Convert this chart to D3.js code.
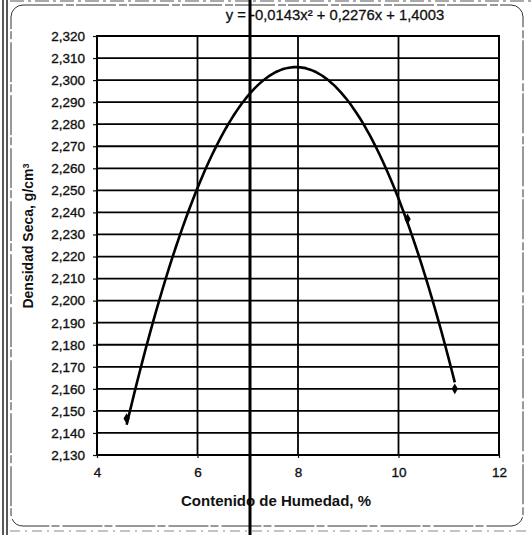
<!DOCTYPE html>
<html>
<head>
<meta charset="utf-8">
<script src="https://cdn.jsdelivr.net/npm/d3@7"></script>
<style>
  html, body { margin: 0; padding: 0; background: #fff; }
  svg { display: block; }
  text { font-family: "Liberation Sans", Arial, sans-serif; fill: #111; }
</style>
</head>
<body>
<svg id="chart" width="531" height="535"></svg>
<script>
// ---- data ----
const moisture = [4.59, 10.18, 11.12];          // Contenido de Humedad, %
const density  = [2.1465, 2.237, 2.160];        // Densidad Seca, g/cm3
const trendCoef = [-0.0143, 0.2276, 1.4003];    // polynomial trendline a, b, c
const trendRange = [4.59, 11.12];
const xTicks = [4, 6, 8, 10, 12];
const yTicks = [2.13, 2.14, 2.15, 2.16, 2.17, 2.18, 2.19, 2.20, 2.21, 2.22,
                2.23, 2.24, 2.25, 2.26, 2.27, 2.28, 2.29, 2.30, 2.31, 2.32];
const equationLabel = "y = -0,0143x² + 0,2276x + 1,4003";
const xTitle = "Contenido de Humedad, %";
const yTitle = "Densidad Seca, g/cm";

// ---- layout ----
const svg = d3.select("#chart");
const plot = { left: 97, right: 499, top: 36, bottom: 455 };

const x = d3.scaleLinear().domain([4, 12]).range([plot.left, plot.right]);
const y = d3.scaleLinear().domain([2.13, 2.32]).range([plot.bottom, plot.top]);

const loc = d3.formatLocale({ decimal: ",", thousands: ".", grouping: [3], currency: ["", ""] });
const fy = loc.format(".3f");

// page/scan decorations
svg.append("line").attr("x1", 3).attr("x2", 3).attr("y1", 0).attr("y2", 535)
  .attr("stroke", "#222").attr("stroke-width", 1.5);
svg.append("line").attr("x1", 7).attr("x2", 7).attr("y1", 0).attr("y2", 535)
  .attr("stroke", "#222").attr("stroke-width", 1.5);
svg.append("line").attr("x1", 10).attr("x2", 531).attr("y1", 1).attr("y2", 1)
  .attr("stroke", "#555").attr("stroke-width", 1).attr("stroke-dasharray", "14,4,3,4");
svg.append("line").attr("x1", 10).attr("x2", 531).attr("y1", 531).attr("y2", 531)
  .attr("stroke", "#888").attr("stroke-width", 1).attr("stroke-dasharray", "10,5,2,5");

// chart area border (rounded)
svg.append("rect")
  .attr("x", 11).attr("y", 5).attr("width", 512).attr("height", 521)
  .attr("rx", 12).attr("ry", 12)
  .attr("fill", "none").attr("stroke", "#333").attr("stroke-width", 1)
  .attr("stroke-dasharray", "40,3,8,2");

// gridlines
const g = svg.append("g");
g.selectAll("line.hg").data(yTicks).join("line")
  .attr("class", "hg")
  .attr("x1", plot.left).attr("x2", plot.right)
  .attr("y1", d => y(d)).attr("y2", d => y(d))
  .attr("stroke", "#000").attr("stroke-width", 1.8);
g.selectAll("line.vg").data(xTicks.slice(1, -1)).join("line")
  .attr("class", "vg")
  .attr("x1", d => x(d)).attr("x2", d => x(d))
  .attr("y1", plot.top).attr("y2", plot.bottom)
  .attr("stroke", "#000").attr("stroke-width", 1.8);

// plot border
svg.append("rect")
  .attr("x", plot.left).attr("y", plot.top)
  .attr("width", plot.right - plot.left).attr("height", plot.bottom - plot.top)
  .attr("fill", "none").attr("stroke", "#000").attr("stroke-width", 2);

// axes
const yAxis = svg.append("g").attr("transform", `translate(${plot.left},0)`)
  .call(d3.axisLeft(y).tickValues(yTicks).tickFormat(fy).tickSize(4).tickPadding(8));
const xAxis = svg.append("g").attr("transform", `translate(0,${plot.bottom})`)
  .call(d3.axisBottom(x).tickValues(xTicks).tickFormat(d => d).tickSize(3).tickPadding(9));
[yAxis, xAxis].forEach(a => {
  a.select(".domain").remove();
  a.selectAll(".tick line").attr("stroke", "#111").attr("stroke-width", 1.2);
  a.selectAll(".tick text").attr("font-size", "13.5px").attr("fill", "#111")
    .attr("stroke", "#111").attr("stroke-width", 0.35)
    .attr("font-family", "'Liberation Sans', Arial, sans-serif");
});

// trendline
const trend = d3.range(0, 101).map(i => {
  const xv = trendRange[0] + (trendRange[1] - trendRange[0]) * i / 100;
  return [xv, trendCoef[0] * xv * xv + trendCoef[1] * xv + trendCoef[2]];
});
svg.append("path").datum(trend)
  .attr("fill", "none").attr("stroke", "#000").attr("stroke-width", 2.6)
  .attr("d", d3.line().x(d => x(d[0])).y(d => y(d[1])).curve(d3.curveBasis));

// markers
svg.selectAll("path.pt").data(moisture.map((m, i) => [m, density[i]])).join("path")
  .attr("class", "pt")
  .attr("d", d3.symbol().type(d3.symbolDiamond).size(34))
  .attr("transform", d => `translate(${x(d[0])},${y(d[1])})`)
  .attr("fill", "#000");

// equation
svg.append("text").attr("x", 335).attr("y", 20).attr("text-anchor", "middle")
  .attr("font-size", "14.8px").attr("stroke", "#111").attr("stroke-width", 0.3)
  .text(equationLabel);

// axis titles
svg.append("text").attr("x", 276).attr("y", 506)
  .attr("text-anchor", "middle").attr("font-size", "15px").attr("font-weight", "bold")
  .text(xTitle);
const yt = svg.append("text")
  .attr("transform", "translate(33,236) rotate(-90)")
  .attr("text-anchor", "middle").attr("font-size", "14px").attr("font-weight", "bold");
yt.append("tspan").text(yTitle);
yt.append("tspan").attr("dy", "-0.45em").attr("font-size", "9px").text("3");

// scan artifact: thick vertical fold line
svg.append("line").attr("x1", 250).attr("x2", 250).attr("y1", 0).attr("y2", 535)
  .attr("stroke", "#000").attr("stroke-width", 3);
</script>
</body>
</html>
